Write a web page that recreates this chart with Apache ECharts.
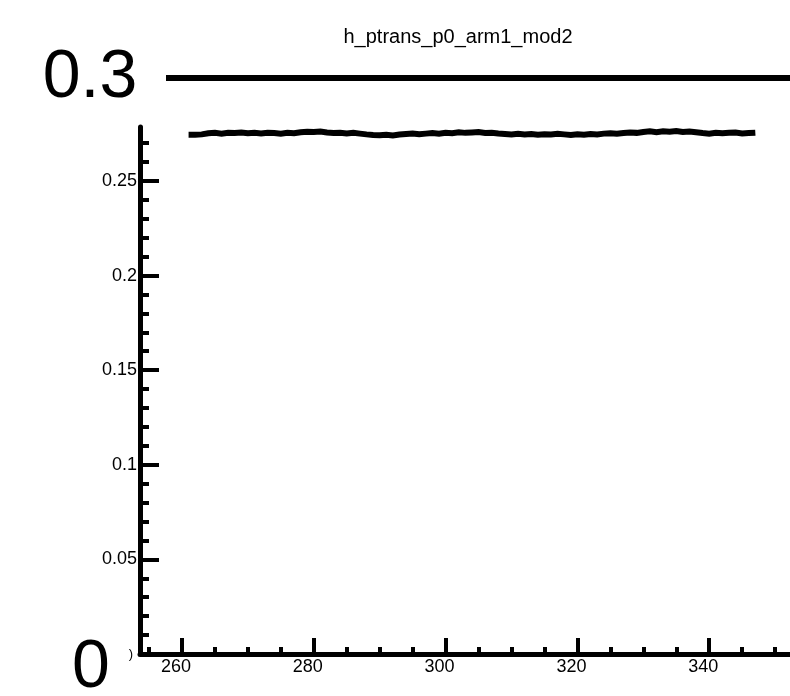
<!DOCTYPE html>
<html>
<head>
<meta charset="utf-8">
<script src="https://cdn.jsdelivr.net/npm/echarts@6/dist/echarts.min.js"></script>
<style>
html,body{margin:0;padding:0;background:#fff;}
#c{width:790px;height:696px;}
</style>
</head>
<body>
<div id="c"></div>
<script>
const title = "h_ptrans_p0_arm1_mod2";
const binStart = 261;
const binWidth = 1;
const values = [
  0.2744,0.2746,0.2752,0.2754,0.2750,0.2755,0.2753,0.2756,0.2752,0.2754,
  0.2751,0.2755,0.2753,0.2750,0.2754,0.2752,0.2757,0.2760,0.2758,0.2761,
  0.2756,0.2753,0.2755,0.2751,0.2754,0.2750,0.2746,0.2743,0.2741,0.2744,
  0.2740,0.2745,0.2748,0.2751,0.2747,0.2750,0.2753,0.2749,0.2755,0.2752,
  0.2757,0.2754,0.2756,0.2758,0.2753,0.2755,0.2751,0.2748,0.2745,0.2749,
  0.2746,0.2748,0.2744,0.2747,0.2745,0.2749,0.2746,0.2743,0.2747,0.2744,
  0.2748,0.2746,0.2750,0.2752,0.2749,0.2753,0.2756,0.2754,0.2759,0.2762,
  0.2758,0.2763,0.2760,0.2764,0.2759,0.2761,0.2757,0.2753,0.2750,0.2755,
  0.2752,0.2754,0.2756,0.2751,0.2753,0.2755
];
const xMajorTicks = [260, 280, 300, 320, 340];
const xMinorTicks = [255,260,265,270,275,280,285,290,295,300,305,310,315,320,325,330,335,340,345,350];
const yMajorTicks = [0, 0.05, 0.1, 0.15, 0.2, 0.25];
const yLabels = [0.05, 0.1, 0.15, 0.2, 0.25];
const yMinorTicks = [0.01,0.02,0.03,0.04,0.06,0.07,0.08,0.09,0.11,0.12,0.13,0.14,0.16,0.17,0.18,0.19,0.21,0.22,0.23,0.24,0.26,0.27];
const xMin = 253.63, xMax = 352.26;
const yMin = 0, yMax = 0.2785;

const pts = values.map((v, i) => [binStart + i * binWidth, v]);
pts.push([binStart + values.length * binWidth, values[values.length - 1]]);

const FONT = "'Liberation Sans', Arial, Helvetica, sans-serif";
const gridRect = {left: 140, right: 0, top: 127, bottom: 42, containLabel: false};

const chart = echarts.init(document.getElementById('c'), null, {renderer: 'canvas'});
chart.setOption({
  animation: false,
  backgroundColor: '#ffffff',
  title: {
    text: title, left: 453, top: 22, textAlign: 'center',
    textStyle: {fontFamily: FONT, fontSize: 20, fontWeight: 'normal', color: '#000'}
  },
  grid: [Object.assign({}, gridRect), Object.assign({}, gridRect)],
  xAxis: [
    {
      gridIndex: 0, type: 'value', min: xMin, max: xMax, position: 'bottom',
      axisLine: {show: true, lineStyle: {color: '#000', width: 5}},
      axisTick: {show: true, inside: true, length: 7, lineStyle: {color: '#000', width: 4}, customValues: xMinorTicks},
      axisLabel: {show: false},
      splitLine: {show: false}
    },
    {
      gridIndex: 1, type: 'value', min: xMin, max: xMax, position: 'bottom',
      axisLine: {show: false},
      axisTick: {show: true, inside: true, length: 16, lineStyle: {color: '#000', width: 4}, customValues: xMajorTicks},
      axisLabel: {show: true, customValues: xMajorTicks, margin: 4, padding: [0, 12, 0, 0],
        fontFamily: FONT, fontSize: 18, color: '#000'},
      splitLine: {show: false}
    }
  ],
  yAxis: [
    {
      gridIndex: 0, type: 'value', min: yMin, max: yMax, position: 'left',
      axisLine: {show: true, lineStyle: {color: '#000', width: 5}},
      axisTick: {show: true, inside: true, length: 9, lineStyle: {color: '#000', width: 4}, customValues: yMinorTicks},
      axisLabel: {show: false},
      splitLine: {show: false}
    },
    {
      gridIndex: 1, type: 'value', min: yMin, max: yMax, position: 'left',
      axisLine: {show: false},
      axisTick: {show: true, inside: true, length: 19, lineStyle: {color: '#000', width: 4}, customValues: yMajorTicks},
      axisLabel: {show: true, customValues: yLabels, margin: 3,
        fontFamily: FONT, fontSize: 18, color: '#000'},
      splitLine: {show: false}
    }
  ],
  series: [
    {
      type: 'line', xAxisIndex: 0, yAxisIndex: 0, step: 'end',
      data: pts, showSymbol: false, symbol: 'none',
      lineStyle: {color: '#000', width: 6, join: 'miter', cap: 'butt'}
    }
  ],
  graphic: [
    {type: 'text', x: 90, y: 78, style: {text: '0.3', font: '68px ' + FONT, fill: '#000', textAlign: 'center', textVerticalAlign: 'middle'}},
    {type: 'line', shape: {x1: 166, y1: 78, x2: 790, y2: 78}, style: {stroke: '#000', lineWidth: 6}},
    {type: 'text', x: 91, y: 668, style: {text: '0', font: '68px ' + FONT, fill: '#000', textAlign: 'center', textVerticalAlign: 'middle'}},
    {type: 'text', x: 133, y: 654, style: {text: ')', font: '13px ' + FONT, fill: '#000', textAlign: 'right', textVerticalAlign: 'middle'}}
  ]
});
</script>
</body>
</html>
